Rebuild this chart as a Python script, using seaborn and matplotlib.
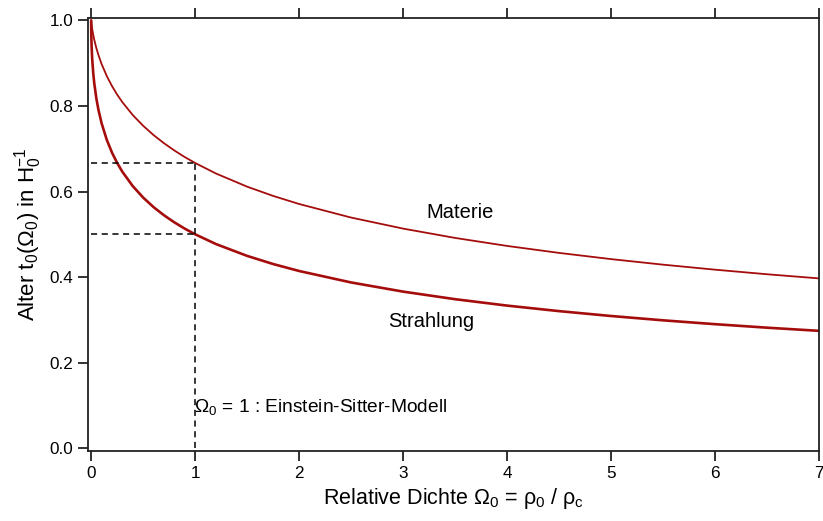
import numpy as np
import pandas as pd
import seaborn as sns
import matplotlib.pyplot as plt

# values
omega = [0.0, 0.00005, 0.0002, 0.0005, 0.001, 0.002, 0.003, 0.005, 0.01,
         0.02, 0.03, 0.05, 0.07, 0.1, 0.15, 0.2, 0.25, 0.3, 0.4, 0.5, 0.6,
         0.7, 0.8, 0.9, 1.0, 1.2, 1.5, 1.75, 2.0, 2.5, 3.0, 3.5, 4.0, 4.5,
         5.0, 5.5, 6.0, 6.5, 7.0]
materie = [1.0, 0.9998, 0.9992, 0.9983, 0.9969, 0.9944, 0.9922, 0.9882,
           0.9797, 0.9659, 0.9543, 0.9350, 0.9188, 0.8981, 0.8699, 0.8465,
           0.8264, 0.8088, 0.7787, 0.7536, 0.7319, 0.7129, 0.6959, 0.6805,
           0.6667, 0.6421, 0.6113, 0.5897, 0.5708, 0.5391, 0.5133, 0.4915,
           0.4728, 0.4565, 0.4420, 0.4290, 0.4173, 0.4066, 0.3969]
strahlung = [1.0, 0.9930, 0.9861, 0.9781, 0.9694, 0.9572, 0.9481, 0.9340,
             0.9091, 0.8761, 0.8524, 0.8173, 0.7908, 0.7597, 0.7208, 0.6910,
             0.6667, 0.6461, 0.6126, 0.5858, 0.5635, 0.5445, 0.5279, 0.5132,
             0.5000, 0.4772, 0.4495, 0.4305, 0.4142, 0.3874, 0.3660, 0.3483,
             0.3333, 0.3204, 0.3090, 0.2989, 0.2899, 0.2817, 0.2743]
x_ticks = [0, 1, 2, 3, 4, 5, 6, 7]
y_ticks = [0.0, 0.2, 0.4, 0.6, 0.8, 1.0]

df = pd.DataFrame({'omega': omega * 2,
                   't0': materie + strahlung,
                   'kurve': ['Materie'] * len(omega) + ['Strahlung'] * len(omega)})

sns.set_style('ticks')
plt.rcParams['font.family'] = ['Liberation Sans', 'DejaVu Sans']
plt.rcParams['mathtext.fontset'] = 'custom'
plt.rcParams['mathtext.rm'] = 'Liberation Sans'
plt.rcParams['mathtext.it'] = 'Liberation Sans'
plt.rcParams['text.color'] = 'black'
plt.rcParams['axes.labelcolor'] = 'black'
plt.rcParams['xtick.color'] = 'black'
plt.rcParams['ytick.color'] = 'black'

fig = plt.figure(figsize=(8.23, 5.21), dpi=100)
ax = fig.add_axes([0.107, 0.134, 0.888, 0.831])

red = '#a50d0d'
sns.lineplot(data=df, x='omega', y='t0', hue='kurve', size='kurve',
             sizes={'Materie': 1.3, 'Strahlung': 1.9},
             palette={'Materie': red, 'Strahlung': red},
             legend=False, ax=ax)

# Einstein-de Sitter guide lines
i1 = omega.index(1.0)
dash = dict(ls=(0, (4, 3)), color='black', lw=1.1)
ax.plot([0, 1], [materie[i1], materie[i1]], **dash)
ax.plot([0, 1], [strahlung[i1], strahlung[i1]], **dash)
ax.plot([1, 1], [0, materie[i1]], **dash)

ax.text(3.55, 0.55, 'Materie', fontsize=14.5, ha='center', va='center')
ax.text(3.27, 0.296, 'Strahlung', fontsize=14.5, ha='center', va='center')
ax.text(0.985, 0.096, r'$\Omega_0$ = 1 : Einstein-Sitter-Modell', fontsize=13.8,
        ha='left', va='center')

ax.set_xlim(-0.03, 7.0)
ax.set_ylim(-0.007, 1.005)
ax.set_xticks(x_ticks)
ax.set_yticks(y_ticks)
ax.set_yticklabels([f'{v:.1f}' for v in y_ticks])
ax.tick_params(axis='both', direction='out', length=7, width=1.3, labelsize=12.3,
               color='#222222')
ax.tick_params(axis='x', top=True, labeltop=False)
for s in ax.spines.values():
    s.set_visible(True)
    s.set_linewidth(1.3)
    s.set_color('#222222')

ax.set_xlabel(r'Relative Dichte $\Omega_0$ = $\rho_0$ / $\rho_c$', fontsize=15.5)
ax.set_ylabel(r'Alter t$_0$($\Omega_0$) in H$_0^{-1}$', fontsize=16)

fig.savefig('out.png', dpi=100)
